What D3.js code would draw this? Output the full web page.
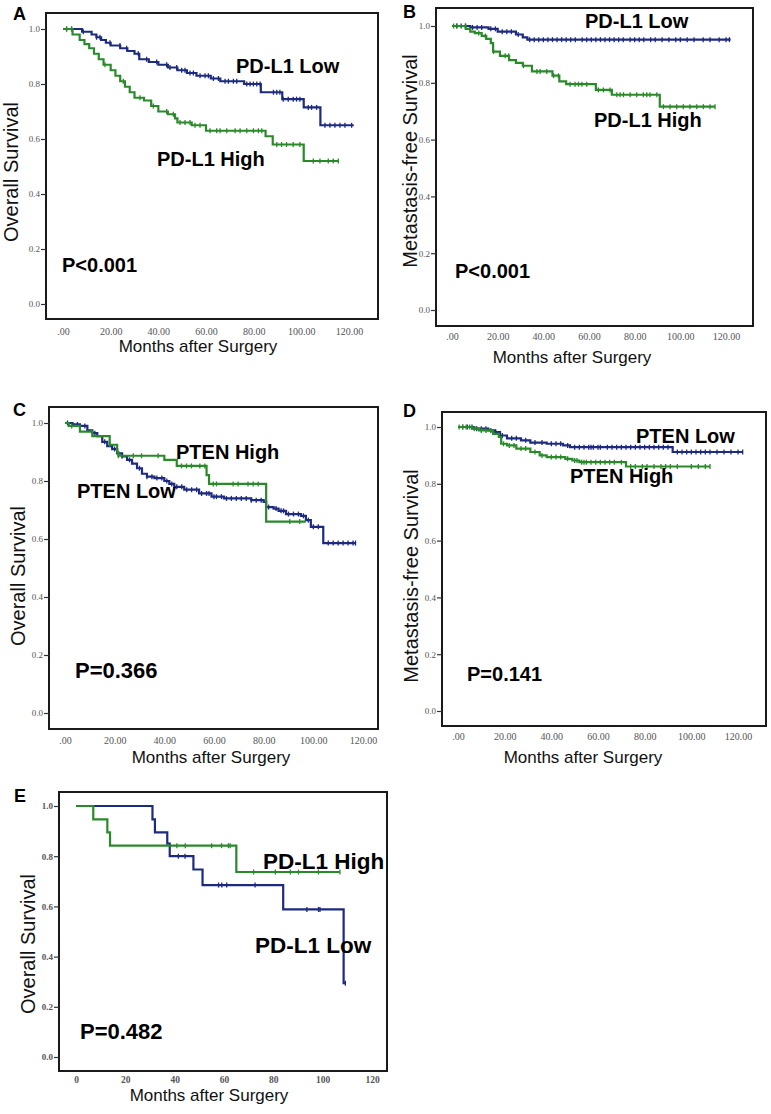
<!DOCTYPE html>
<html><head><meta charset="utf-8">
<script src="https://cdn.jsdelivr.net/npm/d3@7/dist/d3.min.js"></script>
<style>
html,body{margin:0;padding:0;background:#fff;}
svg{display:block;}
</style></head>
<body>
<script>
// ---------- DATA ----------
const xTicksMonths = [0, 20, 40, 60, 80, 100, 120];
const yTicksSurv = [0, 0.2, 0.4, 0.6, 0.8, 1.0];

// Panel A: Overall survival by PD-L1
const aLowTime = [0, 8, 12, 14, 16, 18, 20, 24, 27, 30, 32, 36, 40, 44, 48, 52, 56, 62, 66, 76, 83, 92, 101, 108];
const aLowSurv = [1.0, 0.99, 0.98, 0.97, 0.96, 0.95, 0.94, 0.93, 0.92, 0.91, 0.89, 0.88, 0.87, 0.86, 0.85, 0.84, 0.83, 0.82, 0.81, 0.80, 0.77, 0.745, 0.715, 0.65];
const aLowEnd = 122;
const aLowCens = [1.5, 3.6, 8.5, 14.1, 15.5, 19.7, 23.9, 26.7, 31.6, 35.1, 39.3, 43.5, 44.9, 47.7, 49.8, 51.2, 53.3, 54.7, 57.5, 59.6, 61, 63.1, 65.2, 68, 69.4, 71.5, 72.9, 77.1, 78.5, 79.9, 81.3, 82.7, 88.3, 89.7, 91, 92.4, 94.5, 96.6, 98, 99.4, 102.9, 104.3, 106.4, 109.9, 112, 114.1, 116.2, 118.3, 121.1];
const aHighTime = [0, 4, 7, 9, 11, 13, 15, 17, 20, 22, 24, 26, 28, 30, 34, 37, 40, 44, 47, 48, 54, 60, 85, 88, 101];
const aHighSurv = [1.0, 0.98, 0.96, 0.945, 0.93, 0.91, 0.89, 0.87, 0.85, 0.83, 0.81, 0.79, 0.77, 0.75, 0.74, 0.72, 0.70, 0.69, 0.675, 0.66, 0.65, 0.63, 0.61, 0.58, 0.52];
const aHighEnd = 115.5;
const aHighCens = [1.5, 3.6, 17.6, 25.3, 32.3, 37.9, 43.5, 46.3, 49.1, 51.2, 53.3, 55.4, 57.5, 61.7, 64.5, 65.9, 68.7, 72.2, 74.3, 77.1, 79.9, 82, 83.4, 89.7, 91.7, 93.8, 96.6, 99.4, 105, 107.8, 111.3, 113.4, 115.5];

// Panel B: Metastasis-free survival by PD-L1
const bLowTime = [0, 8, 16, 20, 28, 31, 33];
const bLowSurv = [1.0, 0.995, 0.99, 0.98, 0.97, 0.96, 0.952];
const bLowEnd = 122;
const bLowCens = [2, 4, 6, 9, 11, 13, 17, 19, 22, 24, 26, 29, 34, 36, 38, 40, 42, 44, 46, 48, 50, 52, 54, 57, 59, 61, 63, 65, 67, 69, 71, 73, 75, 78, 80, 82, 84, 87, 89, 92, 95, 98, 100, 103, 106, 110, 113, 117, 120, 121.5];
const bHighTime = [0, 6, 8, 10, 13, 15, 17, 18, 21, 25, 28, 31, 35, 44, 47, 50, 63, 70, 91];
const bHighSurv = [1.0, 0.99, 0.98, 0.975, 0.965, 0.955, 0.94, 0.91, 0.895, 0.88, 0.87, 0.86, 0.84, 0.825, 0.805, 0.795, 0.775, 0.758, 0.716];
const bHighEnd = 115.2;
const bHighCens = [0.7, 2.2, 5.8, 11.7, 14.6, 18.2, 23.3, 24.8, 31.3, 37.2, 38.6, 41.5, 44.5, 46.6, 51.7, 53.9, 55.4, 56.9, 59, 64.1, 66.3, 69.2, 72.2, 73.6, 75.1, 78, 80.9, 83.8, 85.3, 86.7, 89.7, 92.6, 95.5, 98.4, 101.3, 104.2, 107.2, 110.1, 113, 115.2];

// Panel C: Overall survival by PTEN
const cLowTime = [0, 3, 6, 9, 11, 13, 15, 17, 19, 21, 23, 25, 27, 29, 31, 33, 36, 40, 42, 44, 48, 54, 59, 64, 75, 80, 81, 84, 86, 89, 95, 97, 99, 104];
const cLowSurv = [1.0, 0.995, 0.99, 0.975, 0.965, 0.955, 0.935, 0.92, 0.91, 0.895, 0.885, 0.873, 0.86, 0.844, 0.825, 0.815, 0.81, 0.80, 0.79, 0.78, 0.77, 0.757, 0.746, 0.74, 0.734, 0.728, 0.71, 0.705, 0.697, 0.686, 0.68, 0.665, 0.642, 0.586];
const cLowEnd = 117;
const cLowCens = [1, 3, 5, 8, 12, 16, 20, 23, 26, 30, 33, 35, 37, 39, 41, 43, 45, 47, 49, 51, 53, 55, 57, 58, 60, 61, 63, 65, 67, 69, 71, 73, 75, 77, 79, 82, 85, 87, 88, 90, 92, 94, 96, 98, 100, 102, 106, 108, 110, 112, 114, 116, 117];
const cHighTime = [0, 1.5, 6, 11, 18, 21, 21.5, 40, 45, 57, 58, 81];
const cHighSurv = [1.0, 0.99, 0.97, 0.955, 0.925, 0.90, 0.887, 0.873, 0.852, 0.82, 0.79, 0.66];
const cHighEnd = 97;
const cHighCens = [2.7, 10.7, 18.1, 21.5, 27.5, 30.8, 37.5, 46.9, 48.9, 50.9, 54.3, 56.3, 59.7, 61, 67.7, 69.7, 73.7, 75.8, 77.8, 90.5, 94.5];

// Panel D: Metastasis-free survival by PTEN
const dLowTime = [0, 7, 13, 16, 18, 21, 27, 31, 38, 45, 48, 92];
const dLowSurv = [1.0, 0.994, 0.988, 0.982, 0.97, 0.96, 0.953, 0.945, 0.941, 0.935, 0.929, 0.912];
const dLowEnd = 122;
const dLowCens = [2, 4, 6, 8, 10, 12, 14, 16, 19, 23, 25, 29, 33, 36, 40, 42, 44, 47, 50, 52, 54, 56, 57, 58, 60, 61, 64, 66, 68, 70, 72, 74, 76, 78, 80, 82, 84, 86, 88, 90, 94, 96, 98, 100, 102, 104, 106, 108, 111, 114, 117, 120, 122];
const dHighTime = [0, 6, 9, 15, 17.5, 18.5, 21, 25, 31, 35, 38, 46, 49, 52, 72];
const dHighSurv = [1.0, 0.994, 0.988, 0.976, 0.965, 0.941, 0.935, 0.924, 0.912, 0.90, 0.894, 0.888, 0.882, 0.876, 0.861];
const dHighEnd = 108;
const dHighCens = [0.5, 2, 3.5, 5, 7, 10, 12, 14, 19.5, 22, 24, 27, 29, 33, 36, 40, 42, 44, 47, 50, 51, 53, 54, 55, 57, 59, 61, 63, 65, 67, 70, 74, 76, 79, 81, 84, 87, 89, 91, 94, 100, 103, 106, 108];

// Panel E: Overall survival by PD-L1 (subgroup)
const eLowTime = [0, 31, 32, 37, 38, 47.6, 51.3, 84, 108.5];
const eLowSurv = [1.0, 0.947, 0.895, 0.85, 0.80, 0.747, 0.685, 0.588, 0.294];
const eLowEnd = 109.2;
const eLowCens = [41.5, 44.2, 57.8, 59.1, 61.1, 72.6, 93.6, 98.3, 98.9, 109.2];
const eHighTime = [0, 7, 12.7, 13.8, 65];
const eHighSurv = [1.0, 0.947, 0.895, 0.842, 0.737];
const eHighEnd = 107;
const eHighCens = [40.9, 44.3, 55, 59, 61.8, 62.5, 72, 80.8, 86.9, 90.2, 98.3, 107];

// ---------- LAYOUT ----------
const W = 771, H = 1114;
const BLUE = "#1c2a80", GREEN = "#2a8a2a";
const SANS = "'Liberation Sans', Arial, Helvetica, sans-serif";
const SERIF = "'Liberation Serif', 'Times New Roman', serif";
const svg = d3.select("body").append("svg").attr("width", W).attr("height", H);

const panels = [
  {letter:"A", lx:13, ly:20, frame:[46,13,378,319], xr:[63,349], yr:[304,29], xlabY:335, titleY:352, titleX:198,
   yTitle:"Overall Survival", yTitleX:18, yTitleY:172, intFmt:false,
   curves:[[aLowTime,aLowSurv,aLowEnd,aLowCens,BLUE],[aHighTime,aHighSurv,aHighEnd,aHighCens,GREEN]],
   notes:[["PD-L1 Low",236,73,20],["PD-L1 High",157,166,20],["P<0.001",62,272,20]]},
  {letter:"B", lx:403, ly:18, frame:[436,8,753,326], xr:[452,726], yr:[310,26], xlabY:340, titleY:363, titleX:572,
   yTitle:"Metastasis-free Survival", yTitleX:417, yTitleY:161, intFmt:false,
   curves:[[bLowTime,bLowSurv,bLowEnd,bLowCens,BLUE],[bHighTime,bHighSurv,bHighEnd,bHighCens,GREEN]],
   notes:[["PD-L1 Low",585,28,20],["PD-L1 High",594,127,20],["P<0.001",455,278,20]]},
  {letter:"C", lx:13, ly:416, frame:[49,407,378,729], xr:[65,363], yr:[713,423], xlabY:744, titleY:763, titleX:211,
   yTitle:"Overall Survival", yTitleX:25, yTitleY:576, intFmt:false,
   curves:[[cLowTime,cLowSurv,cLowEnd,cLowCens,BLUE],[cHighTime,cHighSurv,cHighEnd,cHighCens,GREEN]],
   notes:[["PTEN High",176,459,20],["PTEN Low",77,498,20],["P=0.366",75,678,22]]},
  {letter:"D", lx:403, ly:417, frame:[442,412,766,726], xr:[458,738], yr:[711,427], xlabY:740, titleY:763, titleX:583,
   yTitle:"Metastasis-free Survival", yTitleX:418, yTitleY:576, intFmt:false,
   curves:[[dLowTime,dLowSurv,dLowEnd,dLowCens,BLUE],[dHighTime,dHighSurv,dHighEnd,dHighCens,GREEN]],
   notes:[["PTEN Low",636,443,20],["PTEN High",570,483,20],["P=0.141",467,681,20]]},
  {letter:"E", lx:14, ly:802, frame:[59,792,387,1071], xr:[76,372], yr:[1057,806], xlabY:1083, titleY:1101, titleX:209,
   yTitle:"Overall Survival", yTitleX:35, yTitleY:944, intFmt:true,
   curves:[[eLowTime,eLowSurv,eLowEnd,eLowCens,BLUE],[eHighTime,eHighSurv,eHighEnd,eHighCens,GREEN]],
   notes:[["PD-L1 High",263,869,22.5],["PD-L1 Low",255,953,22.5],["P=0.482",80,1039,22]]}
];

function survAt(times, surv, t){
  let s = surv[0];
  for (let i = 0; i < times.length; i++) if (times[i] <= t) s = surv[i];
  return s;
}

panels.forEach(p => {
  const g = svg.append("g");
  const [fl, ft, fr, fb] = p.frame;
  const x = d3.scaleLinear().domain([0, 120]).range(p.xr);
  const y = d3.scaleLinear().domain([0, 1]).range(p.yr);

  // frame
  g.append("rect").attr("x", fl).attr("y", ft).attr("width", fr - fl).attr("height", fb - ft)
    .attr("fill", "none").attr("stroke", "#1a1a1a").attr("stroke-width", 2);

  // y axis
  const ya = g.append("g").attr("transform", `translate(${fl},0)`)
    .call(d3.axisLeft(y).tickValues(yTicksSurv).tickFormat(d3.format(".1f")).tickSize(5).tickPadding(1));
  ya.select(".domain").remove();
  ya.selectAll("line").attr("stroke", "#333").attr("stroke-width", 1.2);
  ya.selectAll("text").attr("font-family", SERIF)
    .attr("font-size", 9).attr("fill", "#555").attr("font-weight", p.intFmt ? "bold" : "normal");

  // x axis
  const xa = g.append("g").attr("transform", `translate(0,${fb})`)
    .call(d3.axisBottom(x).tickValues(xTicksMonths)
      .tickFormat(p.intFmt ? d3.format("d") : (d => d === 0 ? ".00" : d.toFixed(2))).tickSize(0));
  xa.select(".domain").remove();
  xa.selectAll("text").attr("y", p.xlabY - fb).attr("dy", null)
    .attr("font-family", SERIF)
    .attr("font-size", p.intFmt ? 9.5 : 10).attr("fill", "#555").attr("font-weight", p.intFmt ? "bold" : "normal");

  // titles
  g.append("text").attr("x", p.titleX).attr("y", p.titleY).attr("text-anchor", "middle")
    .attr("font-family", SANS).attr("font-size", 17).attr("fill", "#111")
    .text("Months after Surgery");
  g.append("text").attr("transform", `translate(${p.yTitleX},${p.yTitleY}) rotate(-90)`).attr("text-anchor", "middle")
    .attr("font-family", SANS).attr("font-size", 20).attr("fill", "#111")
    .text(p.yTitle);
  g.append("text").attr("x", p.lx).attr("y", p.ly)
    .attr("font-family", SANS).attr("font-size", 18).attr("font-weight", "bold")
    .attr("fill", "#000").text(p.letter);

  // curves
  const line = d3.line().x(d => x(d[0])).y(d => y(d[1])).curve(d3.curveStepAfter);
  p.curves.forEach(([times, surv, end, cens, color]) => {
    const pts = times.map((t, i) => [t, surv[i]]).concat([[end, surv[surv.length - 1]]]);
    g.append("path").datum(pts).attr("d", line).attr("fill", "none")
      .attr("stroke", color).attr("stroke-width", 2.2);
    g.selectAll(null).data(cens).enter().append("line")
      .attr("x1", d => x(d)).attr("x2", d => x(d))
      .attr("y1", d => y(survAt(times, surv, d)) - 2.5).attr("y2", d => y(survAt(times, surv, d)) + 2.5)
      .attr("stroke", color).attr("stroke-width", 1.3);
  });

  // annotations
  p.notes.forEach(([txt, nx, ny, fs]) => {
    g.append("text").attr("x", nx).attr("y", ny)
      .attr("font-family", SANS).attr("font-size", fs)
      .attr("font-weight", "bold").attr("fill", "#000").text(txt);
  });
});
</script>
</body></html>
